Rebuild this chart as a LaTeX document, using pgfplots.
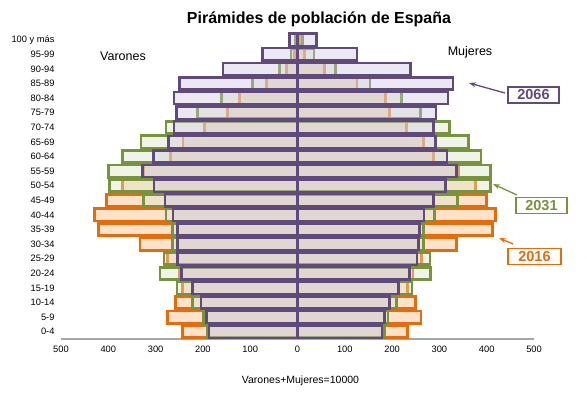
\documentclass[border=0pt]{standalone}
\usepackage{fontspec}
\setmainfont{Liberation Sans}
\usepackage{pgfplots}
\pgfplotsset{compat=1.18}
\usetikzlibrary{arrows.meta}
\definecolor{orgB}{HTML}{E46C0A}
\definecolor{orgF}{HTML}{FACDA8}
\definecolor{grnB}{HTML}{77933C}
\definecolor{grnF}{HTML}{DAE4C6}
\definecolor{purB}{HTML}{604A7B}
\definecolor{purF}{HTML}{CDC6DC}
\begin{document}
\begin{tikzpicture}[x=1pt,y=1pt]
\path[use as bounding box] (0,0) rectangle (587,394);
\begin{axis}[
  at={(61pt,55pt)}, anchor=south west,
  scale only axis, width=473pt, height=306.6pt,
  xmin=-500, xmax=500, ymin=-0.5, ymax=20.5,
  axis x line=bottom, axis y line=left,
  y axis line style={draw=none},
  x axis line style={draw=black!35, line width=1.2pt, -},
  major tick length=0pt, tick style={draw=none},
  xtick={-500,-400,-300,-200,-100,0,100,200,300,400,500},
  xticklabels={500,400,300,200,100,0,100,200,300,400,500},
  ytick={0,1,2,3,4,5,6,7,8,9,10,11,12,13,14,15,16,17,18,19,20},
  yticklabels={0-4,5-9,10-14,15-19,20-24,25-29,30-34,35-39,40-44,45-49,50-54,55-59,60-64,65-69,70-74,75-79,80-84,85-89,90-94,95-99,100 y más},
  ticklabel style={font=\fontsize{9.3}{11}\selectfont},
  /pgf/number format/assume math mode=true,
  xticklabel style={yshift=-3pt},
  yticklabel style={xshift=-3pt},
  clip=false,
]
% 2016
\addplot[xbar, bar width=0.84, bar shift=0pt, draw=orgB, line width=2.7pt, fill=orgF, fill opacity=0.6] coordinates {
(-243,0) (-275,1) (-258,2) (-243,3) (-249,4) (-275,5) (-333,6) (-420,7) (-429,8) (-404,9)
(-370,10) (-325,11) (-268,12) (-242,13) (-196,14) (-148,15) (-123,16) (-66,17) (-23,18) (-6,19) (-3,20)
(233,0) (261,1) (249,2) (232,3) (244,4) (262,5) (336,6) (412,7) (419,8) (400,9)
(376,10) (340,11) (287,12) (267,13) (230,14) (194,15) (186,16) (126,17) (57,18) (15,19) (6,20)
};
% 2031
\addplot[xbar, bar width=0.84, bar shift=0pt, draw=grnB, line width=2.7pt, fill=grnF, fill opacity=0.4] coordinates {
(-191,0) (-198,1) (-222,2) (-255,3) (-291,4) (-282,5) (-264,6) (-264,7) (-278,8) (-325,9)
(-397,10) (-400,11) (-370,12) (-331,13) (-278,14) (-212,15) (-160,16) (-95,17) (-38,18) (-14,19) (-5,20)
(184,0) (191,1) (210,2) (242,3) (281,4) (280,5) (267,6) (267,7) (290,8) (338,9)
(408,10) (408,11) (388,12) (361,13) (322,14) (260,15) (220,16) (153,17) (80,18) (35,19) (11,20)
};
% 2066
\addplot[xbar, bar width=0.84, bar shift=0pt, draw=purB, line width=2.5pt, fill=purF, fill opacity=0.4] coordinates {
(-187,0) (-192,1) (-204,2) (-222,3) (-245,4) (-254,5) (-254,6) (-254,7) (-263,8) (-280,9)
(-303,10) (-328,11) (-304,12) (-273,13) (-261,14) (-256,15) (-261,16) (-250,17) (-158,18) (-74,19) (-17,20)
(179,0) (184,1) (195,2) (214,3) (237,4) (253,5) (256,6) (258,7) (267,8) (288,9)
(313,10) (336,11) (316,12) (292,13) (287,14) (293,15) (318,16) (329,17) (239,18) (126,19) (40,20)
};
\end{axis}
\node[font=\bfseries\fontsize{16}{18}\selectfont] at (319,375) {Pirámides de población de España};
\node[font=\fontsize{12.5}{14}\selectfont] at (123,338) {Varones};
\node[font=\fontsize{12.5}{14}\selectfont] at (470,342) {Mujeres};
\node[font=\fontsize{10.5}{12}\selectfont] at (300.5,13) {Varones+Mujeres=10000};
% annotations
\node[draw=purB, line width=1.8pt, text=purB, font=\bfseries\fontsize{14.5}{15}\selectfont, minimum width=51pt, minimum height=16pt, inner sep=0pt] at (533.5,299) {2066};
\draw[purB, line width=1.3pt, -{Stealth[length=7pt,width=5pt]}] (505,301) -- (469,311);
\node[draw=grnB, line width=1.8pt, text=grnB, font=\bfseries\fontsize{14.5}{15}\selectfont, minimum width=51pt, minimum height=16pt, inner sep=0pt] at (541.5,188.5) {2031};
\draw[grnB, line width=1.3pt, -{Stealth[length=7pt,width=5pt]}] (517,199) -- (493,210);
\node[draw=orgB, line width=1.8pt, text=orgB, font=\bfseries\fontsize{14.5}{15}\selectfont, minimum width=53pt, minimum height=16pt, inner sep=0pt] at (534.5,137.5) {2016};
\draw[orgB, line width=1.3pt, -{Stealth[length=7pt,width=5pt]}] (513,150) -- (499,156);
\end{tikzpicture}
\end{document}
